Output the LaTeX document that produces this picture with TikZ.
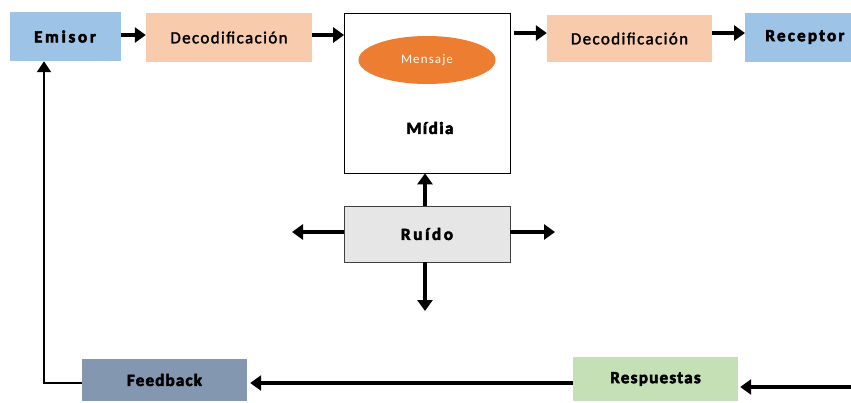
\documentclass[tikz,border=0pt]{standalone}
\usepackage{fontspec}
\setmainfont{Carlito}[BoldFeatures={FakeBold=3.2}]
\newfontfamily\midweight{Carlito}[FakeBold=1.8]
\usetikzlibrary{arrows.meta,shapes.geometric}
\definecolor{bluebox}{HTML}{9DC3E6}
\definecolor{peach}{HTML}{F8CBAD}
\definecolor{orangeell}{HTML}{ED7D31}
\definecolor{slate}{HTML}{8497B0}
\definecolor{greenbox}{HTML}{C5E0B4}
\definecolor{grayfill}{HTML}{E7E6E6}
\newcommand{\spaced}[2]{{\addfontfeature{LetterSpace=#1}#2}}
\tikzset{
  block/.style={rectangle, inner sep=0pt, font=\fontsize{17}{19}\selectfont\bfseries, text=black},
  decofont/.style={font=\fontsize{17}{19}\selectfont\midweight},
  flow/.style={line width=3.4pt, -{Triangle[length=11pt,width=15pt]}},
}
\begin{document}
\begin{tikzpicture}[x=1pt,y=-1pt]
\useasboundingbox (0,0) rectangle (851,402);
% top row
\node[block, fill=bluebox, minimum width=111, minimum height=49] (emisor) at (65,36.5) {\spaced{16}{Emisor}};
\node[block, decofont, fill=peach, minimum width=166, minimum height=49] (deco1) at (229,37.5) {\spaced{8}{Decodificación}};
\node[block, draw=black, line width=0.8pt, fill=white, minimum width=166, minimum height=160] (midia) at (427.5,93) {};
\node[ellipse, fill=orangeell, minimum width=137, minimum height=48, inner sep=0pt,
      text=white, font=\fontsize{13}{15}\selectfont] (mensaje) at (427,60) {\spaced{8.5}{Mensaje}};
\node[font=\fontsize{17}{19}\selectfont\bfseries] (midiatext) at (430,128) {\spaced{9}{Mídia}};
\node[block, decofont, fill=peach, minimum width=165, minimum height=47] (deco2) at (629.5,38.5) {\spaced{8}{Decodificación}};
\node[block, fill=bluebox, minimum width=112, minimum height=49, anchor=west] (receptor) at (745,37.5) {\hspace*{0pt}};
\node[font=\fontsize{17}{19}\selectfont\bfseries] (receptortext) at (805,37) {\spaced{13}{Receptor}};
% noise block
\node[block, draw=black!75, line width=0.8pt, fill=grayfill, minimum width=166, minimum height=56] (ruido) at (427,234) {\spaced{16}{Ruído}};
\coordinate (rleft) at (292,232);
\coordinate (rright) at (555,232);
\coordinate (rdown) at (425,311);
% bottom row
\node[block, fill=slate, minimum width=165, minimum height=42] (feedback) at (164.5,380) {\spaced{7}{Feedback}};
\node[block, fill=greenbox, minimum width=165, minimum height=44] (resp) at (655.5,379) {\spaced{7.5}{Respuestas}};
\coordinate (incoming) at (851,387);
\coordinate (fbcorner) at (44,383);
% connectors
\draw[flow] (emisor.east |- 0,35) -- (deco1.west |- 0,35);
\draw[flow] (deco1.east |- 0,35) -- (midia.west |- 0,35);
\draw[flow] (midia.east |- 0,33) ++(3,0) -- (deco2.west |- 0,33);
\draw[flow] (deco2.east |- 0,33) -- (receptor.west |- 0,33);
\draw[flow] (ruido.north -| 425,0) -- (midia.south -| 425,0);
\draw[flow] (ruido.west |- 0,232) -- (rleft);
\draw[flow] (ruido.east |- 0,232) -- (rright);
\draw[flow] (ruido.south -| 425,0) -- (rdown);
\draw[flow] (resp.west |- 0,383) -- ([xshift=3pt]feedback.east |- 0,383);
\draw[flow] (incoming) -- ([xshift=2pt]resp.east |- 0,387);
\draw[line width=2pt, -{Triangle[length=11pt,width=14pt]}] (feedback.west |- 0,383) -- (fbcorner) -- (emisor.south -| fbcorner);
\end{tikzpicture}
\end{document}
